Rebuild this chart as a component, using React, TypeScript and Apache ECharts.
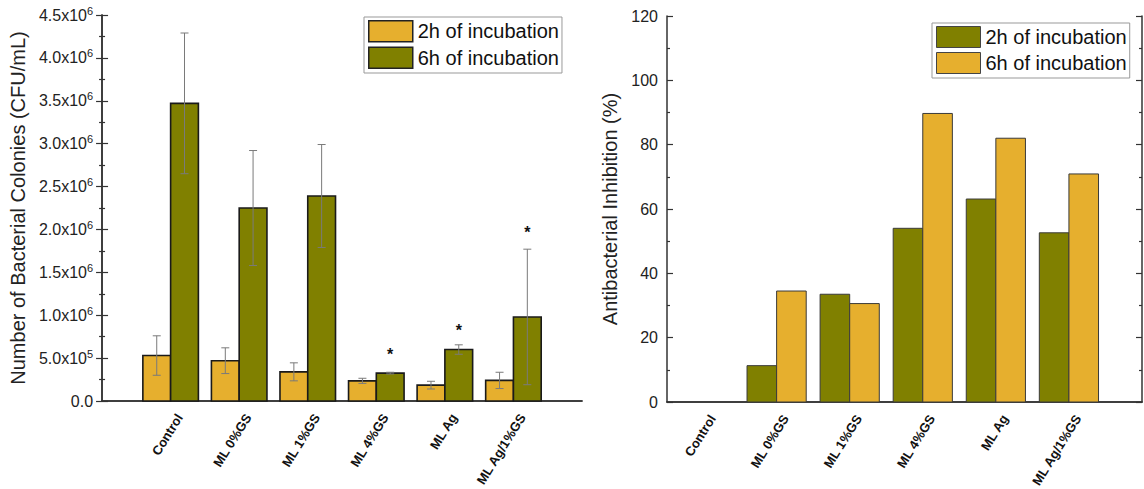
import React, { useEffect, useRef } from "react";
import * as echarts from "echarts";

const categories = ["Control", "ML 0%GS", "ML 1%GS", "ML 4%GS", "ML Ag", "ML Ag/1%GS"];

// Left chart: bacterial colonies (CFU/mL)
const colonies2h = [0.53e6, 0.47e6, 0.34e6, 0.235e6, 0.185e6, 0.24e6];
const colonies2hErr = [0.23e6, 0.15e6, 0.105e6, 0.03e6, 0.045e6, 0.095e6];
const colonies6h = [3.47e6, 2.25e6, 2.39e6, 0.325e6, 0.6e6, 0.98e6];
const colonies6hErr = [0.82e6, 0.67e6, 0.6e6, 0.01e6, 0.055e6, 0.79e6];
const starHeights = [null, null, null, 0.58e6, 0.86e6, 2.0e6];
const leftMax = 4.5e6;
const leftStep = 0.5e6;

// Right chart: antibacterial inhibition (%)
const inhibition2h = [0, 11.3, 33.5, 54.0, 63.1, 52.6];
const inhibition6h = [0, 34.5, 30.6, 89.7, 82.0, 70.9];
const rightMax = 120;
const rightStep = 20;

const YELLOW = "#E6AF2E";
const OLIVE = "#808000";
const FONT = "'Liberation Sans', Arial, sans-serif";
const AXIS_COLOR = "#333";

const BAR_FRACTION = 0.405;

function barRender(side: number, fill: string, stroke: string, lw: number) {
  return (params: any, api: any) => {
    const x = api.value(0);
    const v = api.value(1);
    if (!v) return null;
    const unit = api.size([1, 0])[0];
    const w = unit * BAR_FRACTION;
    const base = api.coord([x, 0]);
    const top = api.coord([x, v]);
    const left = side < 0 ? base[0] - w : base[0];
    return {
      type: "rect",
      shape: { x: left, y: top[1], width: w, height: base[1] - top[1] },
      style: { fill, stroke, lineWidth: lw },
    };
  };
}

function errRender(side: number) {
  return (params: any, api: any) => {
    const x = api.value(0);
    const v = api.value(1);
    const e = api.value(2);
    const unit = api.size([1, 0])[0];
    const w = unit * BAR_FRACTION;
    const cxPix = api.coord([x, 0])[0] + (side * w) / 2;
    const hi = api.coord([x, v + e])[1];
    const lo = api.coord([x, v - e])[1];
    const cap = 4;
    const st = { stroke: "#7a7a7a", lineWidth: 1 };
    return {
      type: "group",
      children: [
        { type: "line", shape: { x1: cxPix, y1: hi, x2: cxPix, y2: lo }, style: st },
        { type: "line", shape: { x1: cxPix - cap, y1: hi, x2: cxPix + cap, y2: hi }, style: st },
        { type: "line", shape: { x1: cxPix - cap, y1: lo, x2: cxPix + cap, y2: lo }, style: st },
      ],
    };
  };
}

function starRender(params: any, api: any) {
  const x = api.value(0);
  const y = api.value(1);
  const unit = api.size([1, 0])[0];
  const w = unit * BAR_FRACTION;
  const p = api.coord([x, y]);
  return {
    type: "text",
    x: p[0] + w / 2,
    y: p[1] + 3,
    style: { text: "*", align: "center", verticalAlign: "middle", font: `bold 16px ${FONT}`, fill: "#111" },
  };
}

function catLabelRender(params: any, api: any) {
  const p = api.coord([api.value(0), 0]);
  return {
    type: "text",
    x: p[0] + 9,
    y: p[1] + 14,
    rotation: (58 * Math.PI) / 180,
    silent: true,
    style: {
      text: categories[params.dataIndex],
      align: "right",
      verticalAlign: "middle",
      fontSize: 13,
      fontWeight: "bold",
      fontFamily: FONT,
      fill: "#111",
    },
  };
}

function sciLabel(v: number) {
  if (v === 0) return "0.0";
  const e = Math.floor(Math.log10(v) + 1e-9);
  const m = v / Math.pow(10, e);
  return `${m.toFixed(1)}x10{sup|${e}}`;
}

function frameAxes(max: number, step: number, name: string, nameGap: number, labelFmt: any, xMin: number) {
  const line = { show: true, lineStyle: { color: AXIS_COLOR, width: 1.5 } };
  const tick = { show: true, inside: true, length: 6, lineStyle: { color: AXIS_COLOR, width: 1.2 } };
  const minor = { show: true, splitNumber: 2, length: 3, lineStyle: { color: AXIS_COLOR, width: 1.2 } };
  return {
    xAxis: [
      { type: "value", min: xMin, max: 7, position: "bottom", axisLine: line, axisTick: { show: false }, axisLabel: { show: false }, splitLine: { show: false } },
      { type: "value", min: xMin, max: 7, position: "top", axisLine: line, axisTick: { show: false }, axisLabel: { show: false }, splitLine: { show: false } },
    ],
    yAxis: [
      {
        type: "value", min: 0, max, interval: step, position: "left",
        axisLine: line, axisTick: tick, minorTick: minor, splitLine: { show: false }, minorSplitLine: { show: false },
        axisLabel: {
          margin: 9, color: "#222", fontSize: 16, fontFamily: FONT, formatter: labelFmt,
          rich: { sup: { fontSize: 11, fontFamily: FONT, color: "#222", padding: [0, 0, 9, 0] } },
        },
        name, nameLocation: "middle", nameGap,
        nameTextStyle: { fontSize: 20, fontFamily: FONT, color: "#222" },
      },
      {
        type: "value", min: 0, max, interval: step, position: "right",
        axisLine: line, axisTick: tick, minorTick: minor, splitLine: { show: false }, minorSplitLine: { show: false },
        axisLabel: { show: false },
      },
    ],
  };
}

function legendCfg(left: number, top: number, c2: string, c6: string, bw: number, bc: string) {
  return {
    orient: "vertical",
    left, top,
    itemWidth: 44, itemHeight: 21, itemGap: 4,
    padding: [3, 3, 4, 4],
    borderColor: "#999", borderWidth: 1,
    icon: "rect",
    selectedMode: false,
    textStyle: { fontSize: 20, fontFamily: FONT, color: "#111" },
    data: [
      { name: "2h of incubation", itemStyle: { color: c2, borderColor: bc, borderWidth: bw } },
      { name: "6h of incubation", itemStyle: { color: c6, borderColor: bc, borderWidth: bw } },
    ],
  };
}

export default function App() {
  const leftRef = useRef<HTMLDivElement>(null);
  const rightRef = useRef<HTMLDivElement>(null);

  useEffect(() => {
    const c1 = echarts.init(leftRef.current!, undefined, { renderer: "svg" });
    const c2 = echarts.init(rightRef.current!, undefined, { renderer: "svg" });

    const catData = categories.map((_, i) => [i + 1, 0]);

    c1.setOption({
      animation: false,
      grid: { left: 98, top: 15, width: 484, height: 386 },
      ...frameAxes(leftMax, leftStep, "Number of Bacterial Colonies (CFU/mL)", 68, sciLabel, 0),
      legend: legendCfg(364, 17, YELLOW, OLIVE, 1.5, "#222"),
      series: [
        { name: "2h of incubation", type: "custom", itemStyle: { color: YELLOW }, renderItem: barRender(-1, YELLOW, "#1a1a1a", 1.6), encode: { x: 0, y: 1 }, data: colonies2h.map((v, i) => [i + 1, v]) },
        { name: "6h of incubation", type: "custom", itemStyle: { color: OLIVE }, renderItem: barRender(1, OLIVE, "#1a1a1a", 1.6), encode: { x: 0, y: 1 }, data: colonies6h.map((v, i) => [i + 1, v]) },
        { name: "err2h", type: "custom", renderItem: errRender(-1), encode: { x: 0, y: 1 }, data: colonies2h.map((v, i) => [i + 1, v, colonies2hErr[i]]) },
        { name: "err6h", type: "custom", renderItem: errRender(1), encode: { x: 0, y: 1 }, data: colonies6h.map((v, i) => [i + 1, v, colonies6hErr[i]]) },
        { name: "stars", type: "custom", renderItem: starRender, encode: { x: 0, y: 1 }, data: starHeights.map((v, i) => (v == null ? null : [i + 1, v])).filter((d) => d) },
        { name: "cats", type: "custom", renderItem: catLabelRender, encode: { x: 0, y: 1 }, data: catData },
      ],
    });

    c2.setOption({
      animation: false,
      grid: { left: 77, top: 16, width: 475, height: 386 },
      ...frameAxes(rightMax, rightStep, "Antibacterial Inhibition (%)", 36, (v: number) => `${v}`, 0.5),
      legend: legendCfg(342, 23, OLIVE, YELLOW, 1, "#444"),
      series: [
        { name: "2h of incubation", type: "custom", itemStyle: { color: OLIVE }, renderItem: barRender(-1, OLIVE, "#3a3a3a", 1), encode: { x: 0, y: 1 }, data: inhibition2h.map((v, i) => [i + 1, v]) },
        { name: "6h of incubation", type: "custom", itemStyle: { color: YELLOW }, renderItem: barRender(1, YELLOW, "#3a3a3a", 1), encode: { x: 0, y: 1 }, data: inhibition6h.map((v, i) => [i + 1, v]) },
        { name: "cats", type: "custom", renderItem: catLabelRender, encode: { x: 0, y: 1 }, data: catData },
      ],
    });

    return () => {
      c1.dispose();
      c2.dispose();
    };
  }, []);

  return (
    <div style={{ position: "absolute", left: 0, top: 0, width: 1144, height: 489, background: "#fff" }}>
      <div ref={leftRef} style={{ position: "absolute", left: 0, top: 0, width: 590, height: 489 }} />
      <div ref={rightRef} style={{ position: "absolute", left: 590, top: 0, width: 554, height: 489 }} />
    </div>
  );
}
